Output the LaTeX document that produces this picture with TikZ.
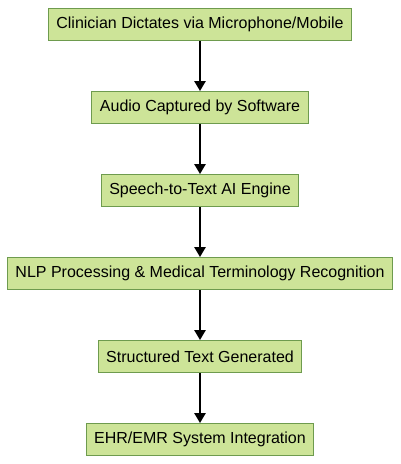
\documentclass[tikz,border=0pt]{standalone}
\usepackage{fontspec}
\setmainfont{Liberation Sans}
\usetikzlibrary{arrows.meta,positioning}
\definecolor{StepFill}{HTML}{CDE498}
\definecolor{StepLine}{HTML}{6E9B4E}

\begin{document}
\begin{tikzpicture}[x=0.75pt,y=-0.75pt,
  stepbox/.style={draw=StepLine,fill=StepFill,line width=0.75pt,
    minimum height=24pt,inner xsep=6pt,font=\fontsize{12}{14}\selectfont},
  flow/.style={-{Triangle[length=7.5pt,width=8.5pt]},line width=1.4pt},
  node distance=37.5pt]
\useasboundingbox (0,0) rectangle (400,464);

\node[stepbox] (dictate) at (200,24.5) {Clinician Dictates via Microphone/Mobile};
\node[stepbox,below=of dictate] (audio) {Audio Captured by Software};
\node[stepbox,below=of audio] (stt) {Speech-to-Text AI Engine};
\node[stepbox,below=of stt] (nlp) {NLP Processing \& Medical Terminology Recognition};
\node[stepbox,below=of nlp] (text) {Structured Text Generated};
\node[stepbox,below=of text] (ehr) {EHR/EMR System Integration};

\draw[flow] (dictate) -- (audio);
\draw[flow] (audio) -- (stt);
\draw[flow] (stt) -- (nlp);
\draw[flow] (nlp) -- (text);
\draw[flow] (text) -- (ehr);

\end{tikzpicture}
\end{document}
